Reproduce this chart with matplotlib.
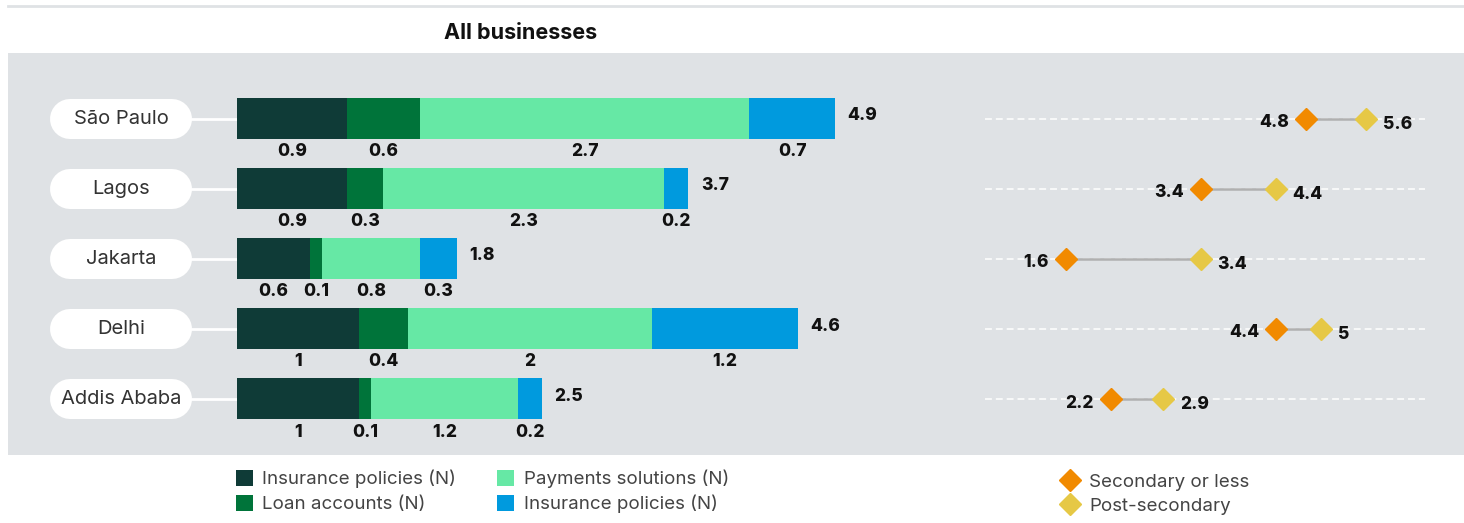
import numpy as np
import matplotlib
matplotlib.use('Agg')
import matplotlib.pyplot as plt
import matplotlib.transforms as mtransforms
from matplotlib.patches import Patch, Rectangle
from matplotlib.lines import Line2D

plt.rcParams['font.family'] = ['Inter', 'DejaVu Sans']

# data
cities = ['São Paulo', 'Lagos', 'Jakarta', 'Delhi', 'Addis Ababa']
series_names = ['Insurance policies (N)', 'Loan accounts (N)',
                'Payments solutions (N)', 'Insurance policies (N)']
insurance = [0.9, 0.9, 0.6, 1.0, 1.0]
loans = [0.6, 0.3, 0.1, 0.4, 0.1]
payments = [2.7, 2.3, 0.8, 2.0, 1.2]
insurance2 = [0.7, 0.2, 0.3, 1.2, 0.2]
secondary = [4.8, 3.4, 1.6, 4.4, 2.2]
post_secondary = [5.6, 4.4, 3.4, 5.0, 2.9]

colors = ['#0f3b37', '#00743a', '#66e8a5', '#009ade']
orange = '#f18a00'
yellow = '#e6c845'
panel = '#dfe2e5'
text_dark = '#444444'

W, H = 1464, 523
fig = plt.figure(figsize=(W / 100, H / 100), dpi=100)
fig.patch.set_facecolor('white')


def fx(px):
    return px / W


def fy(py):
    return 1 - py / H


# background panel and top rule
fig.patches.append(Rectangle((fx(8), fy(455)), (W - 8) / W, (455 - 53) / H,
                             transform=fig.transFigure, facecolor=panel,
                             edgecolor='none', zorder=-5))
fig.add_artist(Line2D([fx(8), 1], [fy(6), fy(6)], color=panel, lw=2))
fig.text(fx(521), fy(33), 'All businesses', ha='center', va='center',
         fontsize=15.5, fontweight='bold', color='#111111')

ylim = (4.80, -0.835)
y = np.arange(len(cities))
label_kw = dict(fontsize=12.5, fontweight='heavy', color='#111111')

# stacked bars
ax = fig.add_axes([fx(237), fy(455), (900 - 237) / W, (455 - 60) / H])
ax.set_xlim(0, (900 - 237) / 122)
ax.set_ylim(*ylim)
ax.axis('off')

bar_h = 0.585
left = np.zeros(len(cities))
for vals, c in zip([insurance, loans, payments, insurance2], colors):
    vals = np.array(vals)
    ax.barh(y, vals, left=left, height=bar_h, color=c, zorder=3)
    for i, v in enumerate(vals):
        ax.annotate(f'{v:g}', xy=(left[i] + v / 2, y[i] + bar_h / 2),
                    xytext=(0, -3), textcoords='offset points',
                    ha='center', va='top', **label_kw)
    left = left + vals

for i, tot in enumerate(left):
    ax.annotate(f'{round(tot, 1):g}', xy=(tot, y[i]), xytext=(9, 2),
                textcoords='offset points', ha='left', va='center', **label_kw)

# city pills
trans = mtransforms.blended_transform_factory(fig.transFigure, ax.transData)
for i, city in enumerate(cities):
    ax.plot([fx(190), fx(237)], [y[i], y[i]], transform=trans, color='white',
            lw=2, clip_on=False, zorder=1)
    ax.plot([fx(70), fx(172)], [y[i], y[i]], transform=trans, color='white',
            lw=28.8, solid_capstyle='round', clip_on=False, zorder=2)
    ax.text(fx(121), y[i], city, transform=trans, ha='center', va='center',
            fontsize=14.5, color='#333333', zorder=4)

# dumbbell
ax2 = fig.add_axes([fx(985), fy(455), (1425 - 985) / W, (455 - 60) / H])
ax2.set_xlim(0.526, 6.385)
ax2.set_ylim(*ylim)
ax2.axis('off')
for i in range(len(cities)):
    ax2.axhline(y[i], color='white', lw=1.1, ls=(0, (4.5, 2.6)), zorder=1)
    ax2.plot([secondary[i], post_secondary[i]], [y[i], y[i]],
             color='#b0b0b0', lw=1.8, zorder=2)
ax2.plot(secondary, y, 'D', color=orange, ms=11, zorder=3)
ax2.plot(post_secondary, y, 'D', color=yellow, ms=11, zorder=3)
for i in range(len(cities)):
    ax2.annotate(f'{secondary[i]:g}', xy=(secondary[i], y[i]), xytext=(-12, -3),
                 textcoords='offset points', ha='right', va='center', **label_kw)
    ax2.annotate(f'{post_secondary[i]:g}', xy=(post_secondary[i], y[i]),
                 xytext=(12, -4.3), textcoords='offset points', ha='left',
                 va='center', **label_kw)

# legends
bar_handles = [Patch(facecolor=c, edgecolor='none', label=n)
               for c, n in zip(colors, series_names)]
leg1 = fig.legend(handles=bar_handles, loc='upper left',
                  bbox_to_anchor=(fx(219), fy(453)), ncol=2, frameon=False,
                  fontsize=13.5, handlelength=0.9, handleheight=0.9,
                  handletextpad=0.5, columnspacing=2.2, labelspacing=0.35)
for t in leg1.get_texts():
    t.set_color(text_dark)

dot_handles = [Line2D([], [], marker='D', ls='', color=orange, ms=11,
                      label='Secondary or less'),
               Line2D([], [], marker='D', ls='', color=yellow, ms=11,
                      label='Post-secondary')]
leg2 = fig.legend(handles=dot_handles, loc='upper left',
                  bbox_to_anchor=(fx(1044), fy(457)), frameon=False,
                  fontsize=13.5, handlelength=1.0, handletextpad=0.5,
                  labelspacing=0.35)
for t in leg2.get_texts():
    t.set_color(text_dark)

fig.savefig('out.png', dpi=100)
